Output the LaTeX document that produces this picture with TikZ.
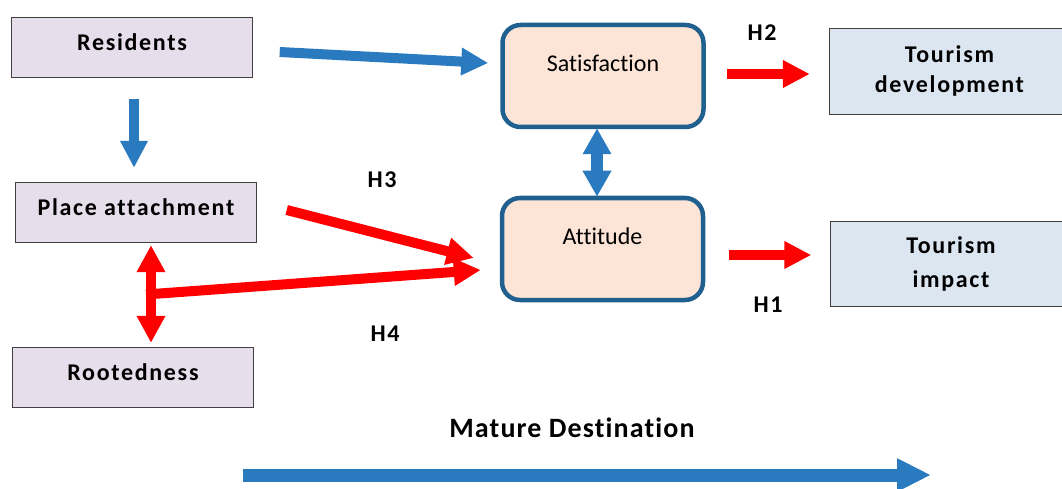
\documentclass[tikz,border=0pt]{standalone}
\usepackage{fontspec}
\setmainfont[Ligatures=NoCommon]{Carlito}
\newfontfamily\boxfont[LetterSpace=7, Ligatures=NoCommon]{Carlito}
\newfontfamily\axisfont[LetterSpace=4, Ligatures=NoCommon]{Carlito}
\usetikzlibrary{arrows.meta}
\definecolor{lilac}{HTML}{E6DFEB}
\definecolor{paleblue}{HTML}{DCE6F1}
\definecolor{peach}{HTML}{FCE4D6}
\definecolor{frameblue}{HTML}{20608F}
\definecolor{arrowblue}{HTML}{2A7ABF}
\definecolor{arrowred}{HTML}{FF0000}

\begin{document}
\begin{tikzpicture}[x = 1pt, y = -1pt,
    factor/.style = {draw = black!75, fill = lilac, minimum width = 241pt,
                     minimum height = 60pt, inner sep = 0pt,
                     font = \boxfont\bfseries\fontsize{24}{28}\selectfont,
                     text height = 16pt, text depth = 10pt},
    stage/.style = {draw = frameblue, line width = 4.5pt, fill = peach,
                    rounded corners = 18pt, minimum width = 201pt,
                    minimum height = 102pt, inner sep = 0pt,
                    font = \fontsize{24}{28}\selectfont,
                    text height = 16pt, text depth = 25pt},
    outcome/.style = {draw = black!75, fill = paleblue, minimum width = 241pt,
                      minimum height = 86pt, align = center,
                      font = \boxfont\bfseries\fontsize{24}{30}\selectfont},
    hyp/.style = {font = \boxfont\bfseries\fontsize{24}{28}\selectfont},
    bluearrow/.style = {draw = arrowblue, line width = 10pt,
                        -{Triangle[length = 27pt, width = 26pt]}},
    redarrow/.style = {draw = arrowred, line width = 10pt,
                       -{Triangle[length = 27pt, width = 26pt]}}
  ]
  \useasboundingbox (0,0) rectangle (1062,489);

  % boxes
  \node[factor] (res)   at (132,47.5) {Residents};
  \node[factor] (place) at (136,212)  {Place attachment};
  \node[factor] (root)  at (133,377)  {Rootedness};
  \node[stage]  (sat)   at (603,76)   {Satisfaction};
  \node[stage]  (att)   at (602.5,249) {Attitude};
  \node[outcome] (dev)  at (949.5,71) {Tourism\\development};
  \node[outcome, minimum height = 85pt] (imp) at (951,263.5) {Tourism\\[4pt]impact};

  % hypotheses
  \node[hyp] (h2) at (762,33)  {H2};
  \node[hyp] (h1) at (768,305) {H1};
  \node[hyp] (h3) at (382,180) {H3};
  \node[hyp] (h4) at (385,334) {H4};

  % arrows
  \draw[bluearrow] ([xshift = 27pt, yshift = -4.5pt]res.east)
                -- ([xshift = -12pt, yshift = 13pt]sat.west);
  \draw[bluearrow] ([xshift = 2pt, yshift = -21pt]res.south)
                -- ([xshift = -2pt, yshift = 14pt]place.north);
  \draw[redarrow] ([xshift = 30pt, yshift = 2pt]place.east)
               -- ([xshift = -26pt, yshift = -9pt]att.west);
  \draw[redarrow, {Triangle[length = 27pt, width = 27pt]}-{Triangle[length = 27pt, width = 27pt]}]
       ([xshift = 15pt, yshift = -3pt]place.south)
    -- ([xshift = 18pt, yshift = 4pt]root.north);
  \coordinate (junc) at (146,294.5);
  \draw[redarrow] (junc) -- ([xshift = -19pt, yshift = -21pt]att.west);
  \draw[bluearrow, line width = 12pt,
        {Triangle[length = 26pt, width = 27pt]}-{Triangle[length = 26pt, width = 27pt]}]
       ([xshift = -6pt, yshift = 1pt]sat.south)
    -- ([xshift = -5.5pt, yshift = -1pt]att.north);
  \draw[redarrow] ([xshift = 21pt, yshift = 2pt]sat.east)
               -- ([xshift = -19pt, yshift = -3pt]dev.west);
  \draw[redarrow] ([xshift = 24pt, yshift = -6pt]att.east)
               -- ([xshift = -19pt, yshift = 8.5pt]imp.west);

  % destination axis
  \node[font = \axisfont\bfseries\fontsize{28}{32}\selectfont] (mature) at (572,428) {Mature Destination};
  \coordinate (axis-start) at (243,475);
  \coordinate (axis-end)   at (931,475);
  \draw[draw = arrowblue, line width = 13pt,
        -{Triangle[length = 34pt, width = 31pt]}] (axis-start) -- (axis-end);
\end{tikzpicture}
\end{document}
